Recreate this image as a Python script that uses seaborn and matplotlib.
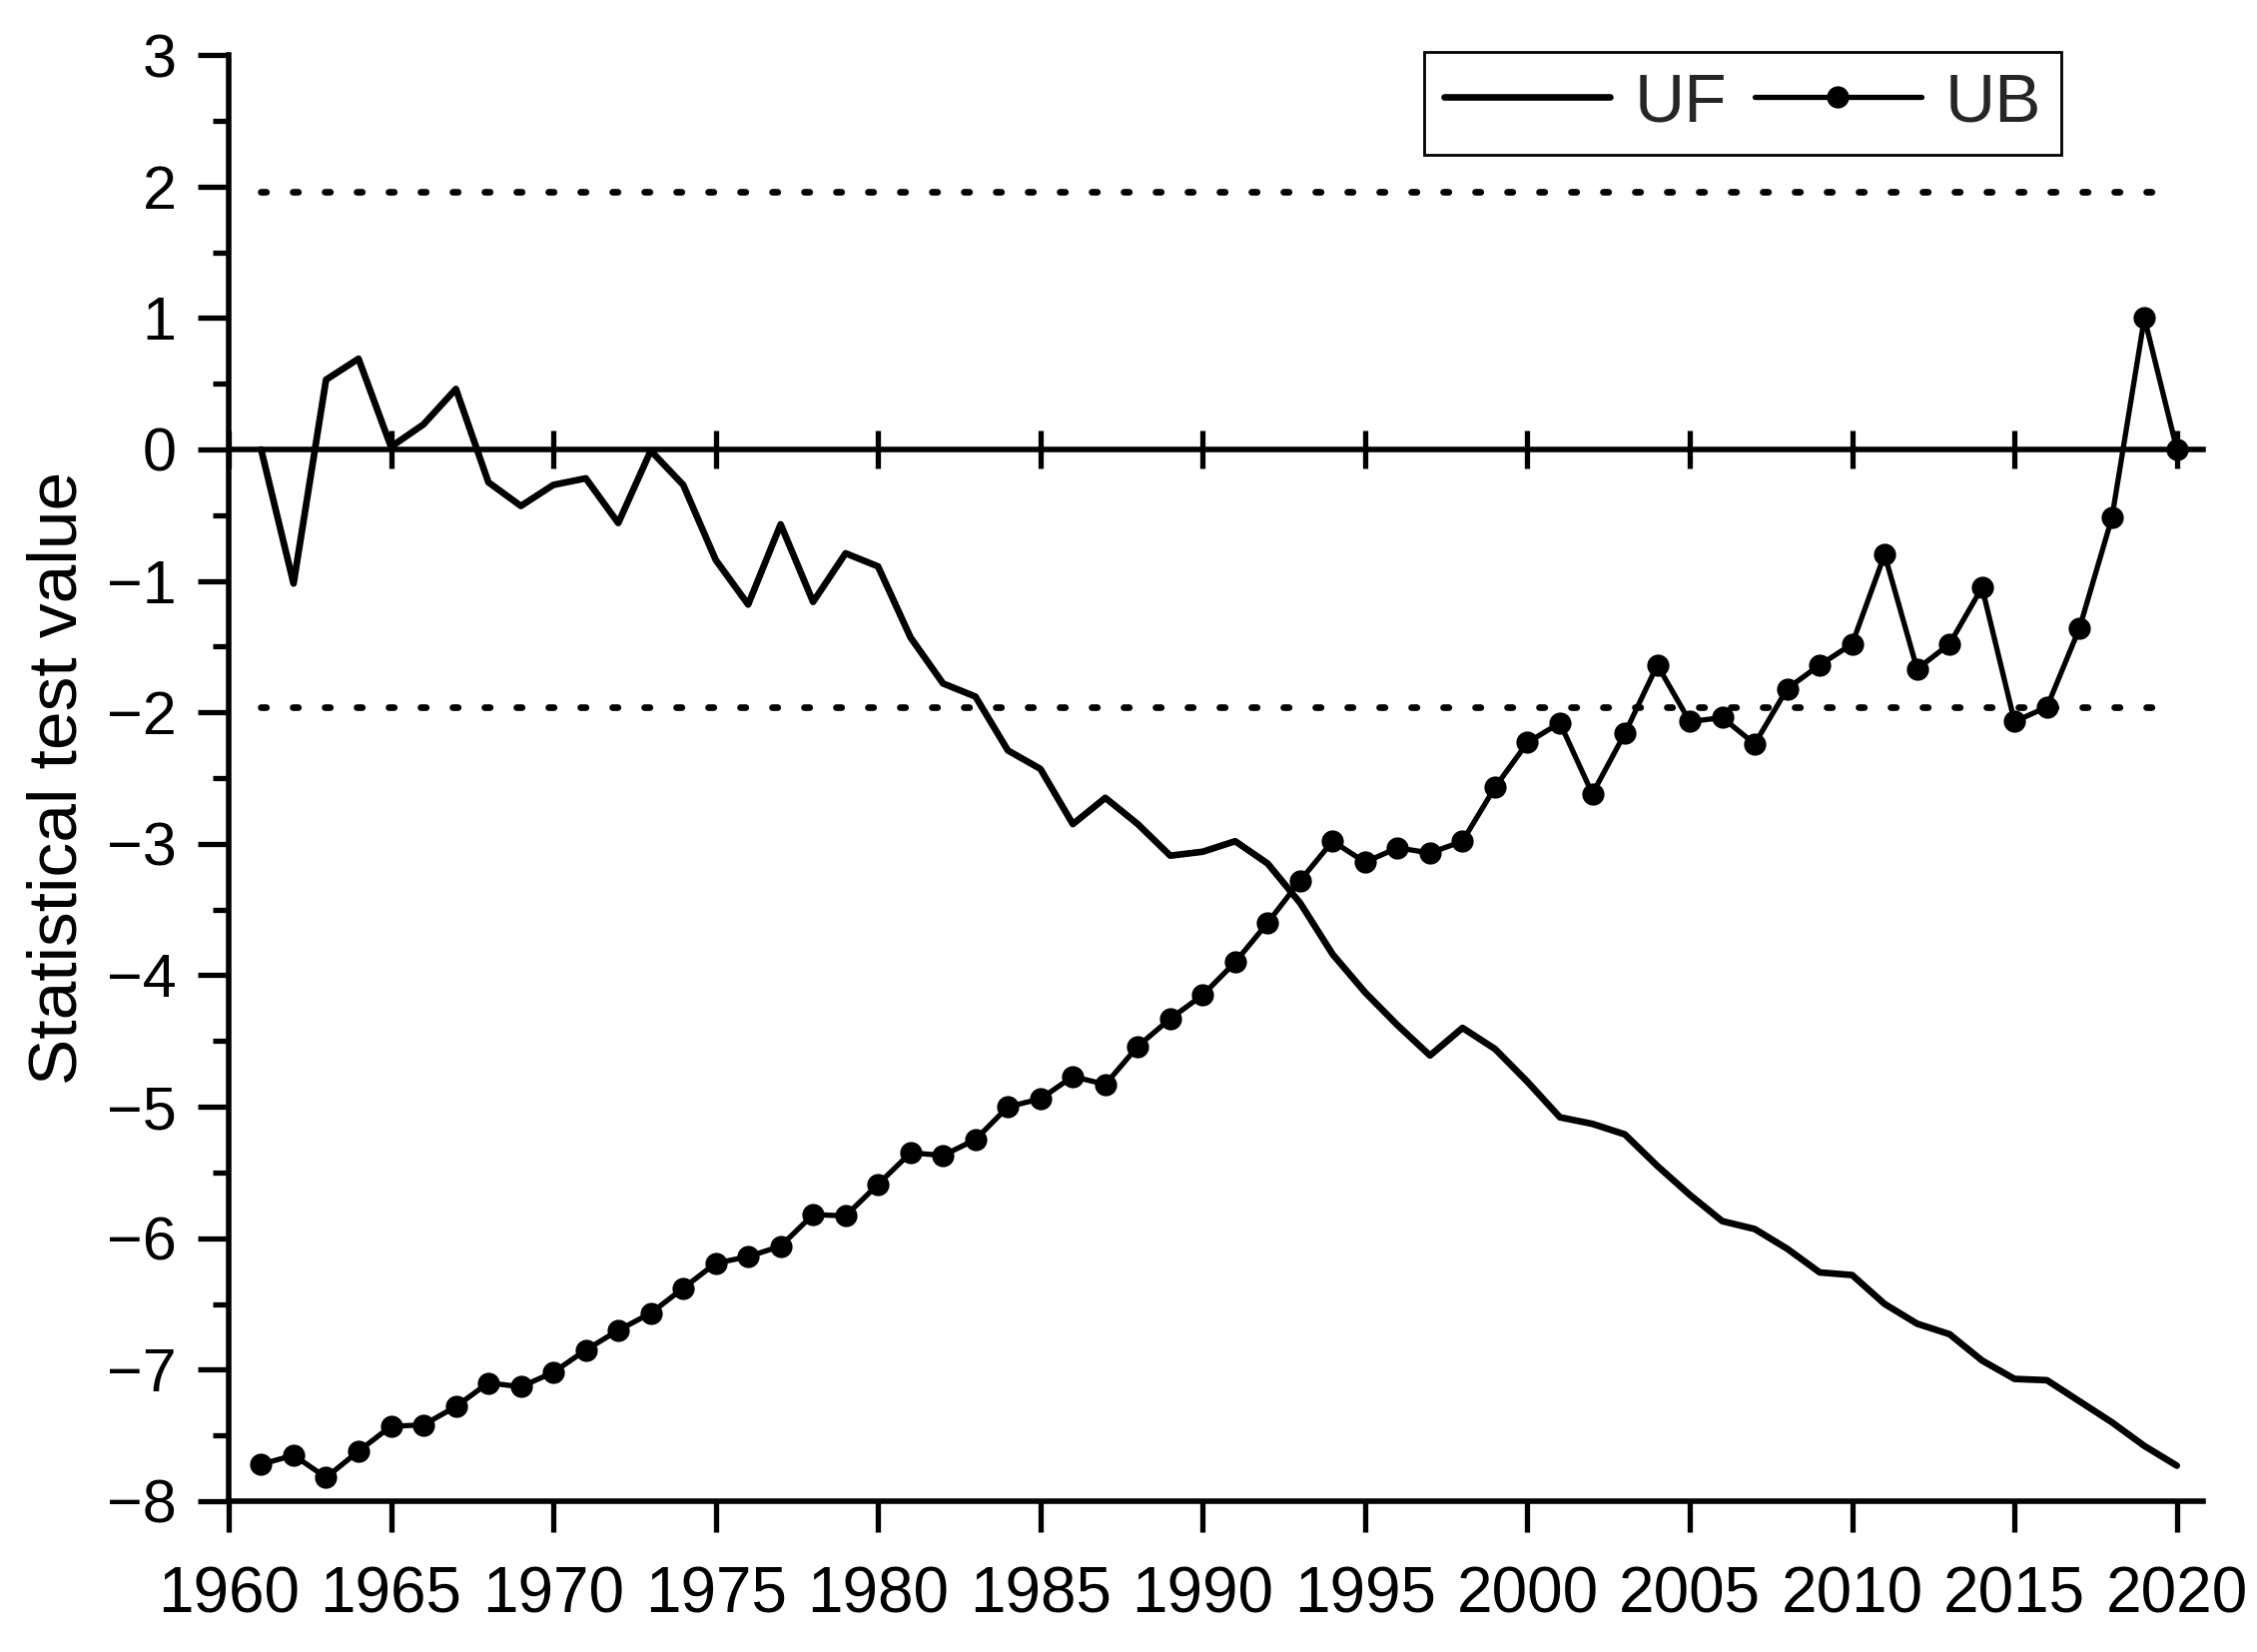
import numpy as np
import pandas as pd
import matplotlib
matplotlib.use("Agg")
import matplotlib.pyplot as plt
from matplotlib.ticker import MultipleLocator
import seaborn as sns

# Mann-Kendall sequential test values
years = list(range(1961, 2021))

uf = [0.00, -1.02, 0.53, 0.69, 0.02, 0.19, 0.46, -0.25, -0.43, -0.27,
      -0.22, -0.56, -0.01, -0.27, -0.84, -1.18, -0.57, -1.16, -0.79, -0.89,
      -1.43, -1.78, -1.88, -2.29, -2.43, -2.85, -2.65, -2.85, -3.09, -3.06,
      -2.98, -3.15, -3.45, -3.84, -4.13, -4.38, -4.61, -4.40, -4.56, -4.81,
      -5.08, -5.13, -5.21, -5.45, -5.67, -5.87, -5.93, -6.08, -6.26, -6.28,
      -6.50, -6.65, -6.73, -6.93, -7.07, -7.08, -7.24, -7.40, -7.58, -7.73]

ub = [-7.72, -7.65, -7.82, -7.62, -7.43, -7.42, -7.28, -7.10, -7.13, -7.02,
      -6.85, -6.70, -6.57, -6.38, -6.19, -6.14, -6.06, -5.82, -5.83, -5.59,
      -5.35, -5.37, -5.25, -5.00, -4.94, -4.77, -4.83, -4.54, -4.33, -4.15,
      -3.90, -3.60, -3.28, -2.98, -3.14, -3.03, -3.07, -2.98, -2.57, -2.23,
      -2.08, -2.62, -2.16, -1.64, -2.07, -2.04, -2.24, -1.82, -1.64, -1.48,
      -0.80, -1.67, -1.48, -1.05, -2.07, -1.96, -1.36, -0.52, 1.00, 0.00]

critical = 1.96  # 95% confidence level
x_ticks = list(range(1960, 2021, 5))
y_ticks = list(range(-8, 4))

df = pd.DataFrame({'year': years, 'UF': uf, 'UB': ub})

sns.set_theme(style='ticks')
plt.rcParams['font.family'] = ['Liberation Sans', 'DejaVu Sans']
plt.rcParams['axes.unicode_minus'] = True

fig = plt.figure(figsize=(11.3, 8.27), dpi=200)
ax = fig.add_axes([0.1013, 0.0913, 0.8747, 0.8754])

sns.lineplot(data=df, x='year', y='UF', ax=ax, color='black', linewidth=2.4, label='UF')
sns.lineplot(data=df, x='year', y='UB', ax=ax, color='black', linewidth=1.9,
             marker='o', markersize=8, markeredgewidth=0, label='UB')

# critical value lines (+/-1.96)
for c in (critical, -critical):
    ax.plot([years[0], years[-1]], [c, c], color='black', linewidth=2.4,
            linestyle=(0, (0.8, 4.0)), dash_capstyle='round')

ax.set_xlim(1960, 2020.8)
ax.set_ylim(-8, 3)
ax.set_xticks(x_ticks)
ax.set_yticks(y_ticks)
ax.yaxis.set_minor_locator(MultipleLocator(0.5))

for s in ['top', 'right']:
    ax.spines[s].set_visible(False)
for s in ['left', 'bottom']:
    ax.spines[s].set_linewidth(2.0)
    ax.spines[s].set_color('black')

ax.tick_params(axis='both', which='major', direction='out', length=11.3, width=1.9,
               color='black', labelsize=22, labelcolor='black')
ax.tick_params(axis='x', pad=12, labelsize=23)
ax.tick_params(axis='y', pad=7.5)
ax.tick_params(axis='y', which='minor', direction='out', length=5.7, width=1.9, color='black')

# zero line with crossing ticks
zero = ax.secondary_xaxis((0 - (-8)) / 11)
zero.set_xticks(x_ticks)
zero.tick_params(direction='inout', length=14, width=1.9, color='black',
                 labelbottom=False, labeltop=False)
for s in zero.spines.values():
    s.set_linewidth(2.0)
    s.set_color('black')

ax.set_xlabel('')
ax.set_ylabel('Statistical test value', fontsize=25, labelpad=6, color='black')

handles, labels = ax.get_legend_handles_labels()
leg = ax.legend(handles, labels, loc='upper right', ncol=2, fontsize=25,
                bbox_to_anchor=(2064 / 2260, 1 - 52 / 1654), bbox_transform=fig.transFigure,
                borderaxespad=0, handlelength=2.4, handletextpad=0.35, columnspacing=0.4,
                fancybox=False, edgecolor='black', framealpha=1, borderpad=0.28)
leg.get_frame().set_linewidth(1.0)

plt.savefig('out.png', dpi=200)
